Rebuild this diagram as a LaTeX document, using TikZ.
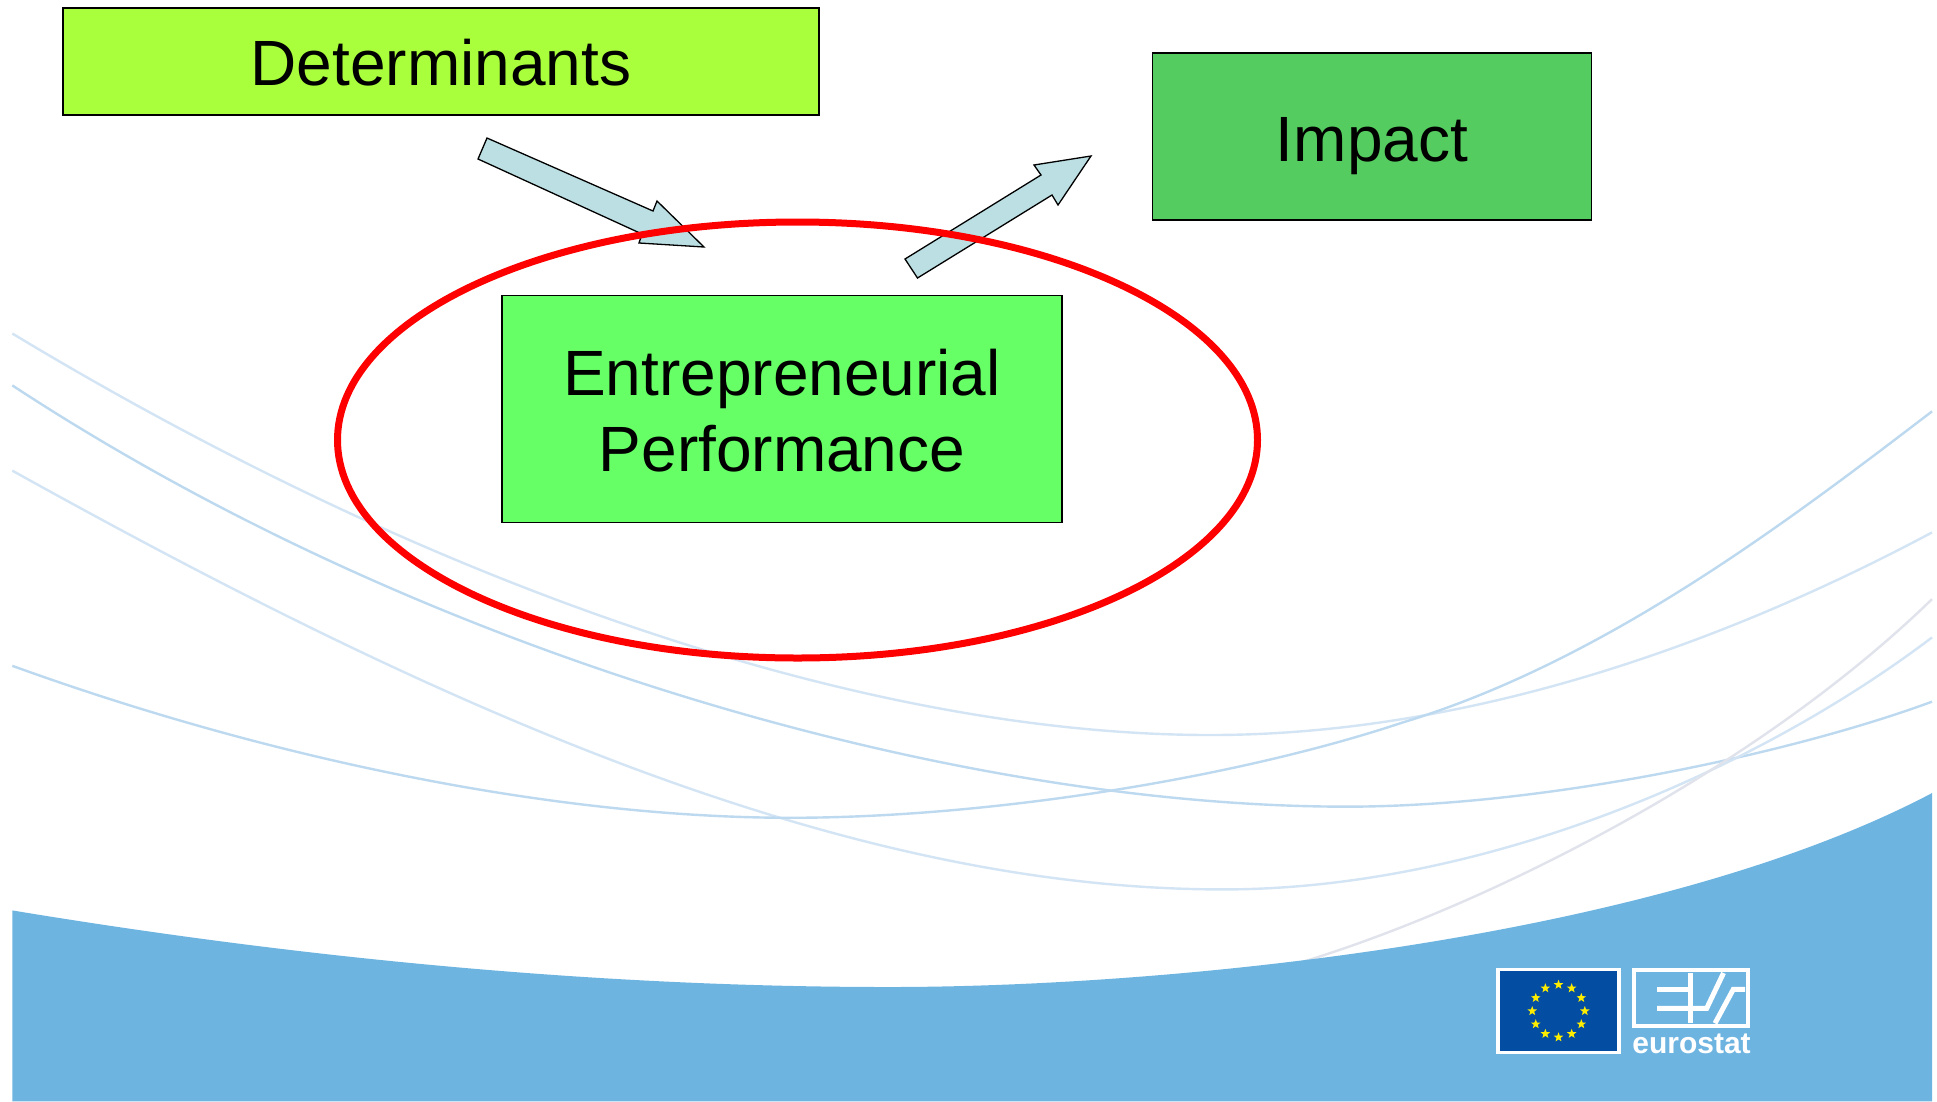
\documentclass[tikz,border=0pt]{standalone}
\usepackage{fontspec}
\setmainfont{Liberation Sans}
\usetikzlibrary{shapes.geometric,calc}
\definecolor{bandblue}{HTML}{6EB4E1}
\definecolor{arrowfill}{HTML}{BBDFE3}
\definecolor{detfill}{HTML}{AAFF3C}
\definecolor{perffill}{HTML}{66FF66}
\definecolor{impfill}{HTML}{55CC5F}
\definecolor{flagblue}{HTML}{034EA2}
\definecolor{staryellow}{HTML}{FFED00}
\definecolor{curveA}{HTML}{D3E5F4}
\definecolor{curveB}{HTML}{BDD9EF}
\definecolor{curveC}{HTML}{E1E3EC}
\tikzset{
  box/.style={draw=black,line width=1.8pt,align=center,inner sep=0pt,
    font=\fontsize{64}{76}\selectfont},
  blockarrow/.style={draw=black,fill=arrowfill,line width=1.3pt,line join=miter},
  swooshA/.style={draw=curveA,line width=2.4pt},
  swooshB/.style={draw=curveB,line width=2.4pt},
  swooshC/.style={draw=curveC,line width=2.4pt},
  eustar/.style={star,star points=5,star point ratio=2.4,fill=staryellow,inner sep=0pt,minimum size=10pt},
  logoline/.style={draw=white,line width=5pt,line join=miter}
}
\begin{document}
\begin{tikzpicture}[x=1pt,y=-1pt]
\useasboundingbox (0,0) rectangle (1937,1101);
\fill[white] (0,0) rectangle (1937,1101);
% swooshes and band, given in the 1568-wide scale
\begin{scope}[x=1.2353pt,y=-1.2353pt]
\path[swooshA] (10,270) .. controls (350,475) and (700,595) .. (980,595) .. controls (1180,595) and (1384,527) .. (1564,431);
\path[swooshB] (10,312) .. controls (350,535) and (780,653) .. (1090,653) .. controls (1250,653) and (1450,610) .. (1564,568);
\path[swooshA] (10,381) .. controls (350,570) and (680,720) .. (990,720) .. controls (1200,720) and (1420,625) .. (1564,516);
\path[swooshB] (10,539) .. controls (220,615) and (450,662) .. (640,662) .. controls (800,662) and (1000,630) .. (1135,585) .. controls (1300,535) and (1450,420) .. (1564,333);
\path[swooshC] (1050,780) .. controls (1200,735) and (1420,625) .. (1564,485);
\fill[bandblue] (10,737) .. controls (240,775) and (480,799) .. (720,799) .. controls (950,799) and (1340,760) .. (1564,642) -- (1564,891.5) -- (10,891.5) -- cycle;
\end{scope}
% boxes
\node[box,fill=detfill,minimum width=756pt,minimum height=107pt,text height=48pt,text depth=0pt] (det) at (441,61.5) {Determinants};
\node[box,fill=impfill,minimum width=439pt,minimum height=167pt,text height=50pt,text depth=0pt] (imp) at (1372,136.5) {Impact};
\node[box,fill=perffill,minimum width=560pt,minimum height=227pt] (perf) at (782,409) {\rule{0pt}{49.5pt}Entrepreneurial\\Performance};
% block arrows
\draw[blockarrow] (487,138) -- (478,159) -- (642,234) -- (639,243) -- (704,247) -- (657,201) -- (653,211) -- cycle;
\draw[blockarrow] (905,259) -- (917.5,278) -- (1052,195) -- (1058,205) -- (1091,156) -- (1034,165) -- (1041,175) -- cycle;
% ellipse
\node[draw=red,line width=7pt,ellipse,minimum width=920pt,minimum height=436pt,inner sep=0pt] (focus) at (797.5,440) {};
% EU flag
\node[draw=white,line width=3.6pt,fill=flagblue,minimum width=121.5pt,minimum height=83pt,inner sep=0pt] (flag) at (1558.5,1011) {};
\foreach \i in {0,...,11}{
  \node[eustar] (star\i) at ($(flag.center)+({\i*30}:26.3pt)$) {};
}
% Eurostat mark
\node[draw=white,line width=4pt,minimum width=114.5pt,minimum height=56pt,inner sep=0pt] (mark) at (1691,998.3) {};
\coordinate (a1) at (1657,989.3);
\coordinate (a2) at (1692.5,989.3);
\coordinate (b1) at (1657,1008.3);
\coordinate (b2) at (1706.7,1008.3);
\coordinate (b3) at (1723.5,973);
\coordinate (v1) at (1690.7,973);
\coordinate (v2) at (1690.7,1023.3);
\coordinate (c1) at (1715,1023.3);
\coordinate (c2) at (1733.3,989.3);
\coordinate (c3) at (1745,989.3);
\draw[logoline] (a1) -- (a2);
\draw[logoline] (b1) -- (b2) -- (b3);
\draw[logoline] (v1) -- (v2);
\draw[logoline] (c1) -- (c2) -- (c3);
\node[anchor=base,text=white,inner sep=0pt,font=\fontsize{30}{30}\selectfont\bfseries] (name) at (1691.5,1053) {eurostat};
\end{tikzpicture}
\end{document}
